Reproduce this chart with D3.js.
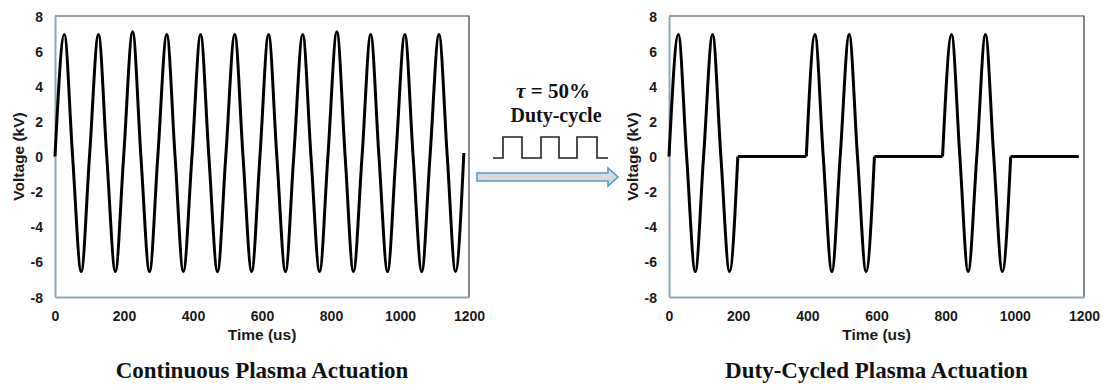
<!DOCTYPE html>
<html>
<head>
<meta charset="utf-8">
<script src="https://cdn.jsdelivr.net/npm/d3@7"></script>
<style>
    body { margin: 0; background: #fff; }
    svg { display: block; }
</style>
</head>
<body>
<svg id="chart" width="1104" height="390"></svg>
<script>
const xTicks = [0, 200, 400, 600, 800, 1000, 1200];
const yTicks = [-8, -6, -4, -2, 0, 2, 4, 6, 8];

// continuous actuation: zero crossings, peaks and troughs
const contTime = [0, 27, 51, 76, 100, 126, 150, 175, 199, 225, 249, 274, 298, 324, 348, 372,
    397, 422, 446, 471, 495, 521, 545, 570, 594, 619, 643, 668, 692, 718, 742, 767,
    791, 817, 841, 865, 890, 915, 939, 964, 988, 1014, 1038, 1063, 1087, 1113, 1137, 1161, 1185];
const contVolt = [0, 6.95, 0, -6.55, 0, 6.95, 0, -6.55, 0, 7.1, 0, -6.55, 0, 6.95, 0, -6.55,
    0, 6.95, 0, -6.55, 0, 6.95, 0, -6.55, 0, 6.95, 0, -6.55, 0, 6.95, 0, -6.55,
    0, 7.1, 0, -6.55, 0, 6.95, 0, -6.55, 0, 6.95, 0, -6.55, 0, 6.95, 0, -6.55, 0.2];

// duty-cycled actuation
const dutyTime = [0, 27, 51, 76, 100, 126, 150, 175, 199,
    397, 422, 446, 471, 495, 521, 545, 570, 594,
    791, 817, 841, 865, 890, 915, 939, 964, 988, 1185];
const dutyVolt = [0, 6.95, 0, -6.55, 0, 6.95, 0, -6.55, 0,
    0, 6.95, 0, -6.55, 0, 6.95, 0, -6.55, 0,
    0, 6.95, 0, -6.55, 0, 6.95, 0, -6.55, 0, 0];

// little square wave in the middle
const pulseEdges = [0, 10, 29, 48, 66, 84, 104, 115];
const pulseLevel = [0, 1, 0, 1, 0, 1, 0, 0];

const svg = d3.select("#chart");
const axisColor = "#8ea7b6";

const toPoints = (times, volts) => times.map((t, i) => ({ t: t, v: volts[i] }));

// split off the flat "off" parts so they are drawn straight
const splitRuns = (points) => {
    let runs = [];
    let current = [points[0]];
    let flat = false;
    for (let i = 1; i < points.length; i++) {
        let isFlat = points[i - 1].v === 0 && points[i].v === 0;
        if (isFlat !== flat && current.length > 1) {
            runs.push({ flat: flat, pts: current });
            current = [points[i - 1]];
        }
        flat = isFlat;
        current.push(points[i]);
    }
    runs.push({ flat: flat, pts: current });
    return runs;
}

const drawPanel = (left, right, points, title) => {
    const top = 16, bottom = 297;
    const x = d3.scaleLinear().domain([0, 1200]).range([left, right]);
    const y = d3.scaleLinear().domain([-8, 8]).range([bottom, top]);
    const g = svg.append("g");

    // plot border (top + right)
    g.append("path")
        .attr("d", "M" + left + "," + top + "H" + right + "V" + bottom)
        .attr("fill", "none")
        .attr("stroke", "#3a3a3a")
        .attr("stroke-width", 1.2);

    // axes without tick marks, plain hyphen minus and no thousands comma
    const yAxis = g.append("g")
        .attr("transform", "translate(" + left + ",0)")
        .call(d3.axisLeft(y).tickValues(yTicks).tickSize(0).tickPadding(12).tickFormat(d => String(d)));
    const xAxis = g.append("g")
        .attr("transform", "translate(0," + bottom + ")")
        .call(d3.axisBottom(x).tickValues(xTicks).tickSize(0).tickPadding(14).tickFormat(d => String(d)));
    [xAxis, yAxis].forEach(a => {
        a.select(".domain").attr("stroke", axisColor).attr("stroke-width", 2);
        a.selectAll("text")
            .attr("font-family", "Liberation Sans, Arial, sans-serif")
            .attr("font-weight", "bold")
            .attr("font-size", 14)
            .attr("fill", "#1a1a1a");
    });
    yAxis.selectAll("text").attr("dy", "0.36em");

    // the waveform
    const line = d3.line().x(d => x(d.t)).y(d => y(d.v));
    splitRuns(points).forEach(run => {
        g.append("path")
            .datum(run.pts)
            .attr("d", line.curve(run.flat ? d3.curveLinear : d3.curveMonotoneX))
            .attr("fill", "none")
            .attr("stroke", "#000")
            .attr("stroke-width", 3)
            .attr("stroke-linejoin", "round");
    });

    // axis titles
    g.append("text")
        .attr("x", (left + right) / 2)
        .attr("y", 340)
        .attr("text-anchor", "middle")
        .attr("font-family", "Liberation Sans, Arial, sans-serif")
        .attr("font-weight", "bold")
        .attr("font-size", 15.5)
        .attr("fill", "#1a1a1a")
        .text("Time (us)");
    g.append("text")
        .attr("transform", "translate(" + (left - 31) + "," + ((top + bottom) / 2) + ") rotate(-90)")
        .attr("text-anchor", "middle")
        .attr("font-family", "Liberation Sans, Arial, sans-serif")
        .attr("font-weight", "bold")
        .attr("font-size", 15.5)
        .attr("fill", "#1a1a1a")
        .text("Voltage (kV)");

    // panel caption
    g.append("text")
        .attr("x", (left + right) / 2)
        .attr("y", 378)
        .attr("text-anchor", "middle")
        .attr("font-family", "Liberation Serif, Times New Roman, serif")
        .attr("font-weight", "bold")
        .attr("font-size", 23)
        .attr("fill", "#111")
        .text(title);
}

drawPanel(55, 469, toPoints(contTime, contVolt), "Continuous Plasma Actuation");
drawPanel(669, 1084, toPoints(dutyTime, dutyVolt), "Duty-Cycled Plasma Actuation");

// middle annotation: tau, duty-cycle label, square wave and arrow
const mid = svg.append("g");
const tau = mid.append("text")
    .attr("x", 553)
    .attr("y", 98)
    .attr("text-anchor", "middle")
    .attr("font-family", "Liberation Serif, Times New Roman, serif")
    .attr("font-weight", "bold")
    .attr("font-size", 21)
    .attr("fill", "#111");
tau.append("tspan").attr("font-style", "italic").text("τ");
tau.append("tspan").text(" = 50%");

mid.append("text")
    .attr("x", 556)
    .attr("y", 122)
    .attr("text-anchor", "middle")
    .attr("font-family", "Liberation Serif, Times New Roman, serif")
    .attr("font-weight", "bold")
    .attr("font-size", 20)
    .attr("fill", "#111")
    .text("Duty-cycle");

const px = d3.scaleLinear().domain([0, 115]).range([493, 608]);
const py = d3.scaleLinear().domain([0, 1]).range([158, 137]);
mid.append("path")
    .datum(pulseEdges.map((e, i) => ({ e: e, l: pulseLevel[i] })))
    .attr("d", d3.line().x(d => px(d.e)).y(d => py(d.l)).curve(d3.curveStepAfter))
    .attr("fill", "none")
    .attr("stroke", "#222")
    .attr("stroke-width", 1.6);

mid.append("path")
    .attr("d", "M477,173H608V168L618,177L608,186V181H477Z")
    .attr("fill", "#d9d9d9")
    .attr("stroke", "#4f9bd0")
    .attr("stroke-width", 1.5)
    .attr("stroke-linejoin", "miter");
</script>
</body>
</html>
